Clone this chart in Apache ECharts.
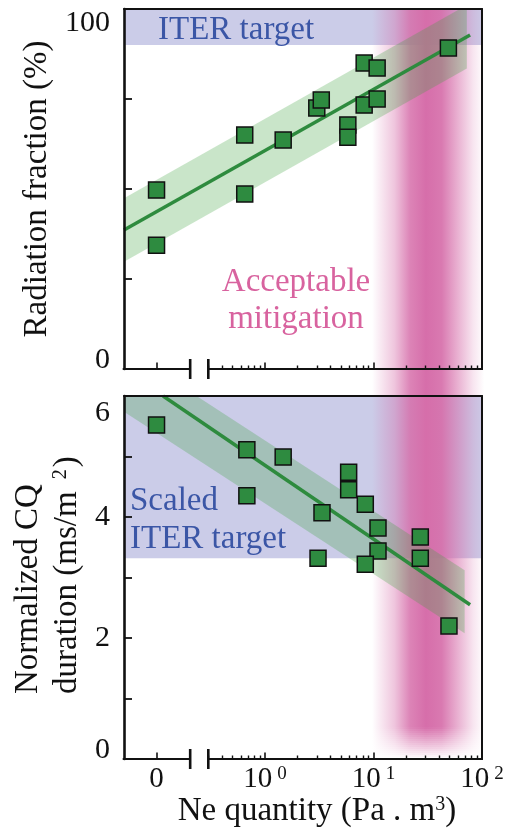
<!DOCTYPE html>
<html><head><meta charset="utf-8">
<script src="https://cdn.jsdelivr.net/npm/echarts@6/dist/echarts.min.js"></script>
<style>html,body{margin:0;padding:0;background:#fff}#c{width:508px;height:834px}</style>
</head><body><div id="c"></div>
<script>
const FONT = '"Liberation Serif", "Times New Roman", serif';
// x axis is in log10(Ne) units; Ne = 0 is shown at a separate position left of the break
const NE_ZERO_POS = -1.0;
const X_MIN = -1.30, X_MAX = 2.0;
const BREAK_L = -0.69, BREAK_R = Math.log10(0.3);
const majorTickPos = [NE_ZERO_POS, 0, 1, 2];
const minorTickNe = [0.3,0.4,0.5,0.6,0.7,0.8,0.9, 2,3,4,5,6,7,8,9, 20,30,40,50,60,70,80,90];

// Top panel: radiation fraction (%)
const neTop  = [0, 0, 0.65, 0.65, 1.47, 3.0, 3.3, 5.8, 5.8, 8.2, 10.8, 8.2, 10.8, 49];
const radTop = [49.7, 34.4, 65.0, 48.6, 63.6, 72.5, 74.7, 67.8, 64.4, 85.0, 83.6, 73.3, 75.0, 89.2];
// Bottom panel: normalized CQ duration (ms/m^2)
const neBot = [0, 0.68, 0.68, 1.47, 5.9, 5.9, 8.4, 3.35, 11, 11, 3.08, 8.4, 27, 27, 49.6];
const cqBot = [5.52, 5.11, 4.35, 4.99, 4.74, 4.45, 4.21, 4.07, 3.82, 3.44, 3.32, 3.22, 3.67, 3.32, 2.20];

// Fit lines and bands (x in axis position units)
const fitTopPos = [-1.30, 1.89], fitTopVal = [38.6, 92.8];
const bandTopPos = [-1.30, 1.86], bandTopLo = [29.8, 83.5], bandTopHi = [47.4, 101.1];
const fitBotPos = [-0.94, 1.89], fitBotVal = [6.0, 2.55];
const bandBotPos = [-1.30, 1.84], bandBotLo = [5.74, 2.08], bandBotHi = [6.78, 3.12];

const iterTop = [90, 100];
const iterBot = [3.32, 6];
const pinkNe = [9.7, 105];

function xpos(v){ return v === 0 ? NE_ZERO_POS : Math.log10(v); }
const topPts = neTop.map((v,i)=>[xpos(v), radTop[i]]);
const botPts = neBot.map((v,i)=>[xpos(v), cqBot[i]]);

const chart = echarts.init(document.getElementById('c'), null, {renderer:'canvas'});
const GREEN = '#2e8b3e';
const lineCol = '#111';

function xAxesFor(grid, withLabels){
  return [
    {gridIndex:grid, type:'value', position:'bottom', min:X_MIN, max:X_MAX, z:10,
     axisLine:{show:false, onZero:false}, splitLine:{show:false},
     axisTick:{show:true, inside:true, length:6.5, lineStyle:{color:lineCol,width:1.6}, customValues:majorTickPos},
     axisLabel:{show:withLabels, customValues:majorTickPos, margin:6, showMinLabel:true, showMaxLabel:true,
       formatter:(v)=> Math.abs(v-NE_ZERO_POS)<1e-6 ? '{n|0}' : '{n|10}{s|'+Math.round(v)+'}',
       rich:{n:{fontSize:29,fontFamily:FONT,color:'#111'}, s:{fontSize:19,fontFamily:FONT,color:'#111',verticalAlign:'top',padding:[0,0,0,5]}}},
     name: withLabels ? '{n|Ne quantity (Pa . m}{s|3}{n|)}' : '', nameLocation:'middle', nameGap:36,
     nameTextStyle:{padding:[0,0,0,28], rich:{n:{fontSize:33,fontFamily:FONT,color:'#111'}, s:{fontSize:20,fontFamily:FONT,color:'#111',verticalAlign:'top'}}}
    },
    {gridIndex:grid, type:'value', position:'bottom', min:X_MIN, max:X_MAX, z:10,
     axisLine:{show:false, onZero:false}, splitLine:{show:false}, axisLabel:{show:false},
     axisTick:{show:true, inside:true, length:3.5, lineStyle:{color:lineCol,width:1.4}, customValues:minorTickNe.map(Math.log10)}},
    {gridIndex:grid, type:'value', position:'top', min:X_MIN, max:X_MAX, z:10,
     axisLine:{show:true, onZero:false, lineStyle:{color:lineCol,width:2}}, axisTick:{show:false}, axisLabel:{show:false}, splitLine:{show:false}}
  ];
}

const yLabelStyle = {fontSize:30, fontFamily:FONT, color:'#111'};

const option = {
  animation:false,
  backgroundColor:'#fff',
  grid:[
    {left:124, right:26, top:9, height:360},
    {left:124, right:26, top:396, height:363}
  ],
  xAxis:[...xAxesFor(0,false), ...xAxesFor(1,true)],
  yAxis:[
    {gridIndex:0, type:'value', min:0, max:100, interval:25, position:'left', z:10,
     axisLine:{show:true, onZero:false, lineStyle:{color:lineCol,width:2.6}}, splitLine:{show:false},
     axisTick:{show:true, inside:true, length:8, lineStyle:{color:lineCol,width:1.8}},
     axisLabel:{margin:14, formatter:(v)=> v===100 ? '{t|100}' : (v===0 ? '{b|0}' : ''),
       rich:{t:Object.assign({padding:[28,0,0,0]}, yLabelStyle), b:Object.assign({padding:[0,0,18,0]}, yLabelStyle)}},
     name:'Radiation fraction (%)', nameLocation:'middle', nameGap:68,
     nameTextStyle:{fontSize:33, fontFamily:FONT, color:'#111'}},
    {gridIndex:0, type:'value', min:0, max:100, position:'right', z:10,
     axisLine:{show:true, onZero:false, lineStyle:{color:lineCol,width:2}}, axisTick:{show:false}, axisLabel:{show:false}, splitLine:{show:false}},
    {gridIndex:1, type:'value', min:0, max:6, interval:1, position:'left', z:10,
     axisLine:{show:true, onZero:false, lineStyle:{color:lineCol,width:2.6}}, splitLine:{show:false},
     axisTick:{show:true, inside:true, length:8, lineStyle:{color:lineCol,width:1.8}},
     axisLabel:{margin:14, formatter:(v)=> v===6 ? '{t|6}' : (v===0 ? '{b|0}' : (v%2===0 ? '{m|'+v+'}' : '')),
       rich:{t:Object.assign({padding:[34,0,0,0]}, yLabelStyle), b:Object.assign({padding:[0,0,18,0]}, yLabelStyle), m:yLabelStyle}}},
    {gridIndex:1, type:'value', min:0, max:6, position:'right', z:10,
     axisLine:{show:true, onZero:false, lineStyle:{color:lineCol,width:2}}, axisTick:{show:false}, axisLabel:{show:false}, splitLine:{show:false}}
  ],
  series:[
    // ITER target bands
    {type:'scatter', xAxisIndex:0, yAxisIndex:0, data:[], z:1, silent:true,
     markArea:{silent:true, itemStyle:{color:'rgba(110,115,190,0.36)'},
       label:{show:true, position:'insideLeft', offset:[29,3], color:'#3b56a6', fontSize:33, fontFamily:FONT},
       data:[[{yAxis:iterTop[0], name:'ITER target'},{yAxis:iterTop[1]}]]}},
    {type:'scatter', xAxisIndex:3, yAxisIndex:2, data:[], z:1, silent:true,
     markArea:{silent:true, itemStyle:{color:'rgba(110,115,190,0.36)'},
       label:{show:true, position:'insideBottomLeft', offset:[1,5], color:'#3b56a6', fontSize:33, fontFamily:FONT, lineHeight:38},
       data:[[{yAxis:iterBot[0], name:'Scaled\nITER target'},{yAxis:iterBot[1]}]]}},
    // fit bands
    {type:'custom', xAxisIndex:0, yAxisIndex:0, clip:true, z:2, silent:true,
     data:bandTopPos.map((p,i)=>[p, bandTopLo[i], bandTopHi[i]]),
     renderItem:(params, api)=>{
       if (params.dataIndex !== 0) return null;
       const pts = [];
       for (let i=0;i<bandTopPos.length;i++) pts.push(api.coord([bandTopPos[i], bandTopLo[i]]));
       for (let i=bandTopPos.length-1;i>=0;i--) pts.push(api.coord([bandTopPos[i], bandTopHi[i]]));
       return {type:'polygon', shape:{points:pts}, style:{fill:'rgba(60,160,60,0.28)'}};
     }},
    {type:'custom', xAxisIndex:3, yAxisIndex:2, clip:true, z:2, silent:true,
     data:bandBotPos.map((p,i)=>[p, bandBotLo[i], bandBotHi[i]]),
     renderItem:(params, api)=>{
       if (params.dataIndex !== 0) return null;
       const pts = [];
       for (let i=0;i<bandBotPos.length;i++) pts.push(api.coord([bandBotPos[i], bandBotLo[i]]));
       for (let i=bandBotPos.length-1;i>=0;i--) pts.push(api.coord([bandBotPos[i], bandBotHi[i]]));
       return {type:'polygon', shape:{points:pts}, style:{fill:'rgba(60,160,60,0.28)'}};
     }},
    // fit lines
    {type:'line', xAxisIndex:0, yAxisIndex:0, z:3, symbol:'none', clip:true, silent:true,
     lineStyle:{color:GREEN, width:3.5}, data:fitTopPos.map((p,i)=>[p, fitTopVal[i]])},
    {type:'line', xAxisIndex:3, yAxisIndex:2, z:3, symbol:'none', clip:true, silent:true,
     lineStyle:{color:GREEN, width:3.5}, data:fitBotPos.map((p,i)=>[p, fitBotVal[i]])},
    // data points
    {type:'scatter', xAxisIndex:0, yAxisIndex:0, z:4, symbol:'rect', symbolSize:16,
     itemStyle:{color:'#2e8b40', borderColor:'#111', borderWidth:1.5, opacity:1}, data:topPts},
    {type:'scatter', xAxisIndex:3, yAxisIndex:2, z:4, symbol:'rect', symbolSize:16,
     itemStyle:{color:'#2e8b40', borderColor:'#111', borderWidth:1.5, opacity:1}, data:botPts}
  ]
};
chart.setOption(option);

// decorations placed through the chart's own scales
const g = [];
const px = (ax, v) => chart.convertToPixel({xAxisIndex:ax}, v);
const py = (ax, v) => chart.convertToPixel({yAxisIndex:ax}, v);

// Acceptable mitigation vertical band
const pL = px(0, Math.log10(pinkNe[0])), pR = px(0, Math.log10(pinkNe[1]));
const pT = Math.round(py(0, 100)), pB = Math.round(py(2, 0));
const grad = new echarts.graphic.LinearGradient(0,0,1,0,[
  {offset:0, color:'rgba(214,110,170,0)'},
  {offset:0.2, color:'rgba(214,110,170,0.4)'},
  {offset:0.34, color:'rgba(214,110,170,0.85)'},
  {offset:0.48, color:'rgba(214,110,170,1)'},
  {offset:0.62, color:'rgba(214,110,170,0.92)'},
  {offset:0.76, color:'rgba(214,110,170,0.55)'},
  {offset:0.9, color:'rgba(214,110,170,0.18)'},
  {offset:1, color:'rgba(214,110,170,0)'}
]);
const fadeH = 32, nSl = 16, slH = fadeH / nSl;
g.push({type:'rect', z:1.5, silent:true, shape:{x:pL, y:pT, width:pR-pL, height:(pB-fadeH)-pT}, style:{fill:grad}});
for (let i=0;i<nSl;i++){
  g.push({type:'rect', z:1.5, silent:true, shape:{x:pL, y:pB-fadeH+i*slH, width:pR-pL, height:slH},
    style:{fill:grad, opacity:1-(i+0.5)/nSl}});
}

// broken bottom axis lines with break bars
[[0,0],[3,2]].forEach(([xa, ya])=>{
  const y0 = py(ya, 0);
  const a = px(xa, X_MIN), b = px(xa, BREAK_L), c = px(xa, BREAK_R), d = px(xa, X_MAX);
  const ls = {stroke:'#111', lineWidth:2};
  g.push({type:'line', z:20, silent:true, shape:{x1:a-1.3, y1:y0, x2:b, y2:y0}, style:ls});
  g.push({type:'line', z:20, silent:true, shape:{x1:c, y1:y0, x2:d+1, y2:y0}, style:ls});
  g.push({type:'line', z:20, silent:true, shape:{x1:b, y1:y0-10, x2:b, y2:y0+10}, style:{stroke:'#111', lineWidth:2.6}});
  g.push({type:'line', z:20, silent:true, shape:{x1:c, y1:y0-10, x2:c, y2:y0+10}, style:{stroke:'#111', lineWidth:2.6}});
});

// annotation and bottom y-axis title
g.push({type:'text', z:20, silent:true, x:296, y:301,
  style:{text:'Acceptable\nmitigation', fontSize:33, fontFamily:FONT, fill:'#d8639f', align:'center', verticalAlign:'middle', lineHeight:37}});
g.push({type:'text', z:20, silent:true, x:28, y:694, rotation:Math.PI/2,
  style:{text:'Normalized CQ', fontSize:33, fontFamily:FONT, fill:'#111', align:'left', verticalAlign:'middle'}});
g.push({type:'text', z:20, silent:true, x:67, y:694, rotation:Math.PI/2,
  style:{text:'{n|duration (ms/m }{s|2}{n|)}', align:'left', verticalAlign:'middle',
    rich:{n:{fontSize:33, fontFamily:FONT, fill:'#111'}, s:{fontSize:20, fontFamily:FONT, fill:'#111', verticalAlign:'top', padding:[0,2,0,4]}}}});

chart.setOption({graphic:{elements:g}});
</script></body></html>
